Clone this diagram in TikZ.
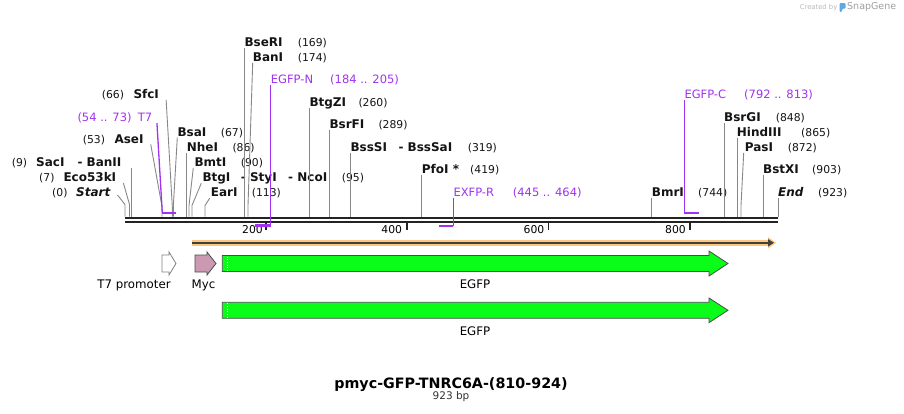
\documentclass[tikz,border=0pt]{standalone}
\usepackage{fontspec}
\setmainfont{DejaVu Sans}
\usepackage{xcolor}
\usepackage{tikz}
\usetikzlibrary{arrows.meta}

\definecolor{primerc}{RGB}{160,50,240}
\definecolor{cutc}{RGB}{135,135,135}
\definecolor{seqc}{RGB}{35,35,35}
\definecolor{orfc}{RGB}{250,200,125}
\definecolor{egfpc}{RGB}{10,252,25}
\definecolor{mycc}{RGB}{204,153,178}
\definecolor{logoc}{RGB}{90,170,230}

\begin{document}
\begin{tikzpicture}[
  x=1pt, y=-1pt,
  >={Triangle[length=6pt,width=7pt]},
  % Styles
  site/.style={font=\fontsize{12}{14}\selectfont\bfseries, anchor=base west, inner sep=0pt, text=black!92},
  num/.style={font=\fontsize{10.8}{13}\selectfont, anchor=base west, inner sep=0pt, text=black!92},
  prm/.style={font=\fontsize{11.5}{13}\selectfont, anchor=base west, inner sep=0pt, text=primerc},
  cut/.style={draw=cutc, line width=0.9pt},
  pline/.style={draw=primerc, line width=1.3pt},
  pbar/.style={draw=primerc, line width=2.3pt},
  seq/.style={draw=seqc, line width=2.2pt},
  tick/.style={draw=seqc, line width=1.6pt},
  tlabel/.style={font=\fontsize{10.8}{13}\selectfont, anchor=base east, inner sep=0pt},
  feat/.style={draw=black!70, line width=0.8pt, line join=miter},
  flabel/.style={font=\fontsize{11.8}{14}\selectfont, anchor=base, inner sep=0pt},
  orf/.style={->, draw=black!75, line width=1.5pt},
  orfglow/.style={-{Triangle[length=8pt,width=11pt]}, draw=orfc, line width=5.5pt}
]

\useasboundingbox (0,0) rectangle (904,413);

% --- 1. Sequence line and ruler ---
\coordinate (seqL) at (125,217.6);
\coordinate (seqR) at (778,217.6);
\draw[seq] (seqL) -- (seqR);
\draw[seq] ([yshift=-4.2pt]seqL) -- ([yshift=-4.2pt]seqR);

\coordinate (t200) at (266,223);
\coordinate (t400) at (406.7,223);
\coordinate (t600) at (548.5,223);
\coordinate (t800) at (690,223);
\draw[tick] (t200) -- ++(0,6.5);
\draw[tick] (t400) -- ++(0,6.5);
\draw[tick] (t600) -- ++(0,6.5);
\draw[tick] (t800) -- ++(0,6.5);
\node[tlabel] (r200) at ([xshift=-3pt,yshift=-10.3pt]t200) {200};
\node[tlabel] (r400) at ([xshift=-4.5pt,yshift=-10.3pt]t400) {400};
\node[tlabel] (r600) at ([xshift=-4pt,yshift=-10.3pt]t600) {600};
\node[tlabel] (r800) at ([xshift=-4pt,yshift=-10.3pt]t800) {800};

% cut sites on the line
\coordinate (cStart) at (125,216.5);
\coordinate (cEco53kI) at (129.5,216.5);
\coordinate (cSacI) at (131.3,216.5);
\coordinate (cAseI) at (162,216.5);
\coordinate (cSfcI) at (172.3,216.5);
\coordinate (cBsaI) at (173.3,216.5);
\coordinate (cNheI) at (186.3,216.5);
\coordinate (cBmtI) at (189,216.5);
\coordinate (cBtgI) at (192,216.5);
\coordinate (cEarI) at (205,216.5);
\coordinate (cBseRI) at (244.3,216.5);
\coordinate (cBanI) at (248,216.5);
\coordinate (cBtgZI) at (309.3,216.5);
\coordinate (cBsrFI) at (329.3,216.5);
\coordinate (cBssSI) at (350.3,216.5);
\coordinate (cPfoI) at (421.7,216.5);
\coordinate (cBmrI) at (651.7,216.5);
\coordinate (cBsrGI) at (724,216.5);
\coordinate (cHindIII) at (737,216.5);
\coordinate (cPasI) at (741,216.5);
\coordinate (cBstXI) at (763,216.5);
\coordinate (cEnd) at (778,216.5);

% primer binding sites
\coordinate (pT7a) at (162.3,212.7);
\coordinate (pT7b) at (176,212.7);
\coordinate (pEGFPNa) at (255,225.5);
\coordinate (pEGFPNb) at (270.5,225.5);
\coordinate (pEXFPRa) at (439.3,226);
\coordinate (pEXFPRb) at (453.3,226);
\coordinate (pEGFPCa) at (684.3,212.7);
\coordinate (pEGFPCb) at (699,212.7);

% --- 2. Sites left of their labels ---
\node[num] (n0) at (52,196.5) {(0)};
\node[site] (lStart) at (76,196.5) {\itshape Start};
\node[num] (n7) at (39,181.5) {(7)};
\node[site] (lEco53kI) at (63.3,181.5) {Eco53kI};
\node[num] (n9) at (11.7,166.5) {(9)};
\node[site] (lSacI) at (36,166.5) {SacI};
\node[site] (lBanII) at (77.3,166.5) {- BanII};
\node[num] (n53) at (82.7,143.3) {(53)};
\node[site] (lAseI) at (114.3,143.3) {AseI};
\node[prm] (nT7) at (77.3,121.7) {(54 .. 73)};
\node[prm] (lT7) at (137.7,121.7) {T7};
\node[num] (n66) at (101.7,98) {(66)};
\node[site] (lSfcI) at (133.3,98) {SfcI};

% --- 3. Sites right of their labels ---
\node[site] (lBsaI) at (177.3,136) {BsaI};
\node[num] (n67) at (220.7,136) {(67)};
\node[site] (lNheI) at (186.7,151.3) {NheI};
\node[num] (n86) at (232.3,151.3) {(86)};
\node[site] (lBmtI) at (194.3,166.3) {BmtI};
\node[num] (n90) at (240.7,166.3) {(90)};
\node[site] (lBtgI) at (202.3,181.7) {BtgI};
\node[site] (lStyI) at (240.7,181.7) {- StyI};
\node[site] (lNcoI) at (288,181.7) {- NcoI};
\node[num] (n95) at (341.7,181.7) {(95)};
\node[site] (lEarI) at (210.7,196.7) {EarI};
\node[num] (n113) at (251.7,196.7) {(113)};
\node[site] (lBseRI) at (244.3,46.7) {BseRI};
\node[num] (n169) at (297.7,46.7) {(169)};
\node[site] (lBanI) at (252.7,61.3) {BanI};
\node[num] (n174) at (297.7,61.3) {(174)};
\node[prm] (lEGFPN) at (270.7,83.3) {EGFP-N};
\node[prm] (nEGFPN) at (330,83.3) {(184 .. 205)};
\node[site] (lBtgZI) at (309.3,106) {BtgZI};
\node[num] (n260) at (358.3,106) {(260)};
\node[site] (lBsrFI) at (329.3,128.7) {BsrFI};
\node[num] (n289) at (378.3,128.7) {(289)};
\node[site] (lBssSI) at (350.3,151.3) {BssSI};
\node[site] (lBssSaI) at (398.3,151.3) {- BssSaI};
\node[num] (n319) at (467.7,151.3) {(319)};
\node[site] (lPfoI) at (421.7,173.3) {PfoI *};
\node[num] (n419) at (470,173.3) {(419)};
\node[prm] (lEXFPR) at (453.3,196) {EXFP-R};
\node[prm] (nEXFPR) at (512.7,196) {(445 .. 464)};
\node[site] (lBmrI) at (651.7,196) {BmrI};
\node[num] (n744) at (698,196) {(744)};
\node[prm] (lEGFPC) at (684.3,98.7) {EGFP-C};
\node[prm] (nEGFPC) at (744,98.7) {(792 .. 813)};
\node[site] (lBsrGI) at (724,121.3) {BsrGI};
\node[num] (n848) at (775.7,121.3) {(848)};
\node[site] (lHindIII) at (736.7,136.7) {HindIII};
\node[num] (n865) at (801,136.7) {(865)};
\node[site] (lPasI) at (744.7,151.3) {PasI};
\node[num] (n872) at (787.7,151.3) {(872)};
\node[site] (lBstXI) at (763,173.3) {BstXI};
\node[num] (n903) at (812,173.3) {(903)};
\node[site] (lEnd) at (778,196) {\itshape End};
\node[num] (n923) at (818,196) {(923)};

% --- 4. Cut site connectors ---
\draw[cut] (lStart.base east) ++(7,-1.5) -- ([yshift=12pt]cStart) -- (cStart);
\draw[cut] (lEco53kI.base east) ++(7,1.5) -- ([yshift=12pt]cEco53kI) -- (cEco53kI);
\draw[cut] (cSacI |- lBanII.base) ++(0,1.5) -- (cSacI);
\draw[cut] (lAseI.base east) ++(7,1) -- ([yshift=10pt]cAseI) -- (cAseI);
\draw[cut] (lSfcI.base east) ++(7,2) -- ([yshift=10pt]cSfcI) -- (cSfcI);
\draw[cut] (lBsaI.base west) ++(0,1.5) -- ([yshift=10pt]cBsaI) -- (cBsaI);
\draw[cut] (cNheI |- lNheI.base) ++(0,1.5) -- (cNheI);
\draw[cut] (lBmtI.base west) ++(-1,1.5) -- ([yshift=11pt]cBmtI) -- (cBmtI);
\draw[cut] (lBtgI.base west) ++(-1,1.5) -- ([yshift=11pt]cBtgI) -- (cBtgI);
\draw[cut] (lEarI.base west) ++(-1,1.5) -- ([yshift=11pt]cEarI) -- (cEarI);
\draw[cut] (cBseRI |- lBseRI.base) ++(0,1.5) -- (cBseRI);
\draw[cut] (lBanI.base west) ++(0,1.5) -- ([yshift=11pt]cBanI) -- (cBanI);
\draw[cut] (cBtgZI |- lBtgZI.base) ++(0,2.3) -- (cBtgZI);
\draw[cut] (cBsrFI |- lBsrFI.base) ++(0,1.5) -- (cBsrFI);
\draw[cut] (cBssSI |- lBssSI.base) ++(0,1.5) -- (cBssSI);
\draw[cut] (cPfoI |- lPfoI.base) ++(0,1.5) -- (cPfoI);
\draw[cut] (cBmrI |- lBmrI.base) ++(0,1.5) -- (cBmrI);
\draw[cut] (cBsrGI |- lBsrGI.base) ++(0,1.5) -- (cBsrGI);
\draw[cut] (cHindIII |- lHindIII.base) ++(0,1.5) -- (cHindIII);
\draw[cut] (lPasI.base west) ++(-1,1.5) -- ([yshift=11pt]cPasI) -- (cPasI);
\draw[cut] (cBstXI |- lBstXI.base) ++(0,1.5) -- (cBstXI);
\draw[cut] (cEnd |- lEnd.base) ++(0,1.5) -- (cEnd);

% --- 5. Primers ---
\draw[pline] (lT7.base east) ++(4.5,1.5) -- (pT7a);
\draw[pbar] (pT7a) -- (pT7b);
\draw[pline] (pEGFPNb |- lEGFPN.base) ++(0,1.5) -- (pEGFPNb);
\draw[pbar] (pEGFPNa) -- (pEGFPNb);
\draw[pline] (pEXFPRb |- lEXFPR.base) ++(0,1.5) -- (pEXFPRb);
\draw[pbar] (pEXFPRa) -- (pEXFPRb);
\draw[pline] (pEGFPCa |- lEGFPC.base) ++(0,1.5) -- (pEGFPCa);
\draw[pbar] (pEGFPCa) -- (pEGFPCb);

% --- 6. ORF and features ---
\coordinate (orfL) at (191.7,242.8);
\coordinate (orfR) at (774,242.8);
\draw[orfglow] (orfL) -- ([xshift=2pt]orfR);
\draw[orf] (orfL) -- (orfR);

\coordinate (fT7) at (162,263.5);
\coordinate (fMyc) at (195,263.5);
\coordinate (fEGFP) at (222.3,263.5);
\coordinate (fEGFP2) at (222.3,310.3);

\draw[feat, draw=black!50, fill=white] (fT7) ++(0,-8.5) -- ++(7,0) -- ++(0,-3)
  -- ++(7,11.5) -- ++(-7,11.5) -- ++(0,-3) -- ++(-7,0) -- cycle;
\draw[feat, fill=mycc] (fMyc) ++(0,-8.5) -- ++(12,0) -- ++(0,-3)
  -- ++(9,11.5) -- ++(-9,11.5) -- ++(0,-3) -- ++(-12,0) -- cycle;
\draw[feat, fill=egfpc] (fEGFP) ++(0,-8) -- ++(486.7,0) -- ++(0,-4.5)
  -- ++(19,12.5) -- ++(-19,12.5) -- ++(0,-4.5) -- ++(-486.7,0) -- cycle;
\draw[feat, fill=egfpc] (fEGFP2) ++(0,-8) -- ++(486.7,0) -- ++(0,-4.3)
  -- ++(19,12.3) -- ++(-19,12.3) -- ++(0,-4.3) -- ++(-486.7,0) -- cycle;
\draw[white, dotted, line width=0.7pt] ([xshift=4.7pt,yshift=7pt]fEGFP) -- ([xshift=4.7pt,yshift=-7pt]fEGFP);
\draw[white, dotted, line width=0.7pt] ([xshift=4.7pt,yshift=7pt]fEGFP2) -- ([xshift=4.7pt,yshift=-7pt]fEGFP2);

\node[flabel] (lT7p) at (134,288.3) {T7 promoter};
\node[flabel] (lMyc) at (203.5,288.3) {Myc};
\node[flabel] (lEGFP) at (475,288.3) {EGFP};
\node[flabel] (lEGFP2) at (475,335.3) {EGFP};

% --- 7. Title ---
\node[font=\fontsize{14.3}{16}\selectfont\bfseries, anchor=base, inner sep=0pt] (title) at (451,388) {pmyc-GFP-TNRC6A-(810-924)};
\node[font=\fontsize{10.5}{12}\selectfont, anchor=base, inner sep=0pt, text=black!80] (size) at (451,399.5) {923 bp};

% Created by
\node[font=\fontsize{6.8}{8}\selectfont, anchor=base east, inner sep=0pt, text=black!28] (created) at (837.5,9) {Created by};
\fill[logoc, rounded corners=1.2pt] (839.5,3) -- (845.5,3) -- (845.5,8.7) -- (842,8.7) -- (842,12) -- (839.5,12) -- cycle;
\node[font=\fontsize{9.5}{11}\selectfont, anchor=base west, inner sep=0pt, text=black!38] (snapgene) at (847,9.6) {SnapGene};

\end{tikzpicture}
\end{document}
